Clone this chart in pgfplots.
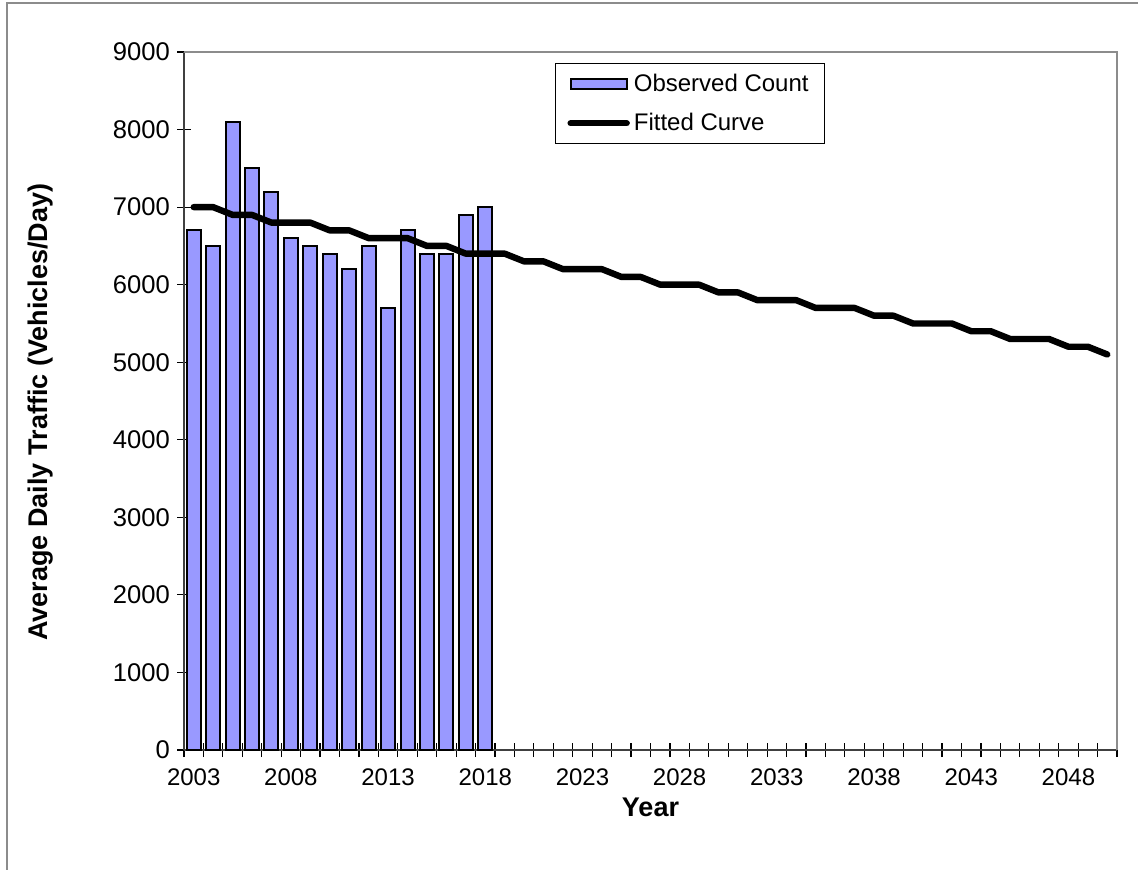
\documentclass[border=0pt]{standalone}
\usepackage{fontspec}
\setmainfont{Liberation Sans}
\usepackage{pgfplots}
\pgfplotsset{compat=1.18}
\definecolor{barfill}{HTML}{9999FF}
\definecolor{frame}{HTML}{8C8C8C}
\pgfplotsset{
    barlegend/.style={legend image code/.code={\draw[##1] (0pt,-2.5pt) rectangle (28pt,2.5pt);}},
    linelegend/.style={legend image code/.code={\draw[##1] (0pt,0pt) -- (28pt,0pt);}},
}

% 1 px of the reference = 0.5pt
\begin{document}
\begin{tikzpicture}
\useasboundingbox (0,0) rectangle (569pt,434.5pt);
\draw[frame, line width=0.9pt] (3.5pt,-20pt) -- (3.5pt,433pt) -- (600pt,433pt);
\begin{axis}[
    at={(92pt,59.5pt)}, anchor=south west,
    scale only axis,
    width=466.5pt, height=349pt,
    xmin=-0.5, xmax=47.5,
    ymin=0, ymax=9000,
    axis x line=bottom, axis y line=left,
    axis line style={-, black!75, line width=0.9pt},
    xtick={-0.5,0.5,...,47.5},
    xticklabels={2003,,,,,2008,,,,,2013,,,,,2018,,,,,2023,,,,,2028,,,,,2033,,,,,2038,,,,,2043,,,,,2048,,,,},
    xticklabel style={xshift=4.86pt, yshift=-2.5pt, font=\fontsize{12}{14}\selectfont},
    ytick={0,1000,...,9000},
    tick align=center,
    major tick length=7pt,
    tick style={black, line width=0.6pt},
    /pgf/number format/assume math mode=true,
    yticklabel style={/pgf/number format/1000 sep={}, font=\fontsize{12.8}{15}\selectfont},
    xlabel={Year},
    ylabel={Average Daily Traffic (Vehicles/Day)},
    label style={font=\fontsize{13.5}{15}\selectfont\bfseries},
    xlabel style={at={(axis description cs:0.5,-0.082)}, anchor=center},
    ylabel style={at={(axis description cs:-0.154,0.484)}, anchor=center},
    legend style={at={(rel axis cs:0.3976,0.984)}, anchor=north west,
        draw=black, line width=0.5pt, fill=white,
        font=\fontsize{12}{14}\selectfont,
        inner xsep=6pt, inner ysep=3pt, row sep=5.5pt},
    legend cell align=left,
    clip=false,
]
\addplot[ybar, bar width=7pt, bar shift=0pt, fill=barfill, draw=black, line width=1pt, barlegend]
    coordinates {
    (0,6700)(1,6500)(2,8100)(3,7500)(4,7200)(5,6600)(6,6500)(7,6400)
    (8,6200)(9,6500)(10,5700)(11,6700)(12,6400)(13,6400)(14,6900)(15,7000)
    };
\addplot[black, line width=3.2pt, line join=round, line cap=round, mark=none, linelegend]
    coordinates {
    (0,7000)(1,7000)(2,6900)(3,6900)(4,6800)(5,6800)(6,6800)(7,6700)
    (8,6700)(9,6600)(10,6600)(11,6600)(12,6500)(13,6500)(14,6400)(15,6400)
    (16,6400)(17,6300)(18,6300)(19,6200)(20,6200)(21,6200)(22,6100)(23,6100)
    (24,6000)(25,6000)(26,6000)(27,5900)(28,5900)(29,5800)(30,5800)(31,5800)
    (32,5700)(33,5700)(34,5700)(35,5600)(36,5600)(37,5500)(38,5500)(39,5500)
    (40,5400)(41,5400)(42,5300)(43,5300)(44,5300)(45,5200)(46,5200)(47,5100)
    };
\legend{Observed Count, Fitted Curve}
\draw[frame, line width=0.9pt] (rel axis cs:0,1) -- (rel axis cs:1,1) -- (rel axis cs:1,0);
\end{axis}
\end{tikzpicture}
\end{document}
